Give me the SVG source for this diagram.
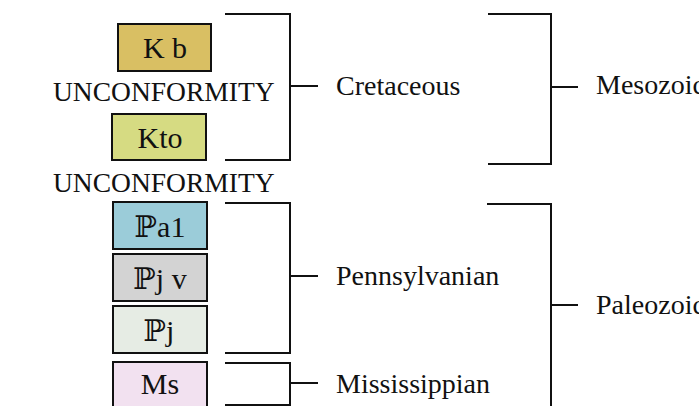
<svg xmlns="http://www.w3.org/2000/svg" width="699" height="406" viewBox="0 0 699 406">
  <style>
    .unit { stroke: #111; stroke-width: 2; }
    .lbl { font-family: "Liberation Serif", "DejaVu Serif", serif; font-size: 28px; fill: #111; }
    .unc { font-size: 27.5px; }
    .code { font-family: "Liberation Serif", "DejaVu Serif", serif; font-size: 30px; fill: #111; text-anchor: middle; }
    .brk { fill: none; stroke: #111; stroke-width: 2; }
  </style>
  <rect width="699" height="406" fill="#fff"/>

  <!-- rock units -->
  <g id="kb">
    <rect class="unit" x="118" y="24" width="93" height="47" fill="#d9bf63"/>
    <text class="code" x="165" y="58">K b</text>
  </g>
  <g id="unconformity-1">
    <text class="lbl unc" x="53" y="101">UNCONFORMITY</text>
  </g>
  <g id="kto">
    <rect class="unit" x="112" y="114" width="94" height="46" fill="#d6db82"/>
    <text class="code" x="160" y="148">Kto</text>
  </g>
  <g id="unconformity-2">
    <text class="lbl unc" x="53" y="192">UNCONFORMITY</text>
  </g>
  <g id="pa1">
    <rect class="unit" x="113" y="202" width="94" height="47" fill="#9bccd9"/>
    <text class="code" x="160" y="237">ℙa1</text>
  </g>
  <g id="pjv">
    <rect class="unit" x="113" y="254" width="94" height="47" fill="#d3d3d3"/>
    <text class="code" x="160" y="289">ℙj v</text>
  </g>
  <g id="pj">
    <rect class="unit" x="113" y="306" width="94" height="47" fill="#e6ece4"/>
    <text class="code" x="159" y="341">ℙj</text>
  </g>
  <g id="ms">
    <rect class="unit" x="113" y="362" width="94" height="60" fill="#f2e1f0"/>
    <text class="code" x="160" y="394">Ms</text>
  </g>

  <!-- brackets grouping units into periods and eras -->
  <g id="connectors">
    <path class="brk" d="M225,14 H290 V160 H225 M290,86 H318"/>
    <path class="brk" d="M488,14 H551 V164 H488 M551,87 H578"/>
    <path class="brk" d="M225,203 H290 V353 H225 M290,276 H318"/>
    <path class="brk" d="M225,363 H290 V405 H225 M290,383 H318"/>
    <path class="brk" d="M487,204 H551 V410 M551,305 H578"/>
  </g>

  <g id="cretaceous"><text class="lbl" x="336" y="95">Cretaceous</text></g>
  <g id="mesozoic"><text class="lbl" x="596" y="94">Mesozoic</text></g>
  <g id="pennsylvanian"><text class="lbl" x="336" y="285">Pennsylvanian</text></g>
  <g id="mississippian"><text class="lbl" x="336" y="393">Mississippian</text></g>
  <g id="paleozoic"><text class="lbl" x="596" y="314">Paleozoic</text></g>
</svg>
